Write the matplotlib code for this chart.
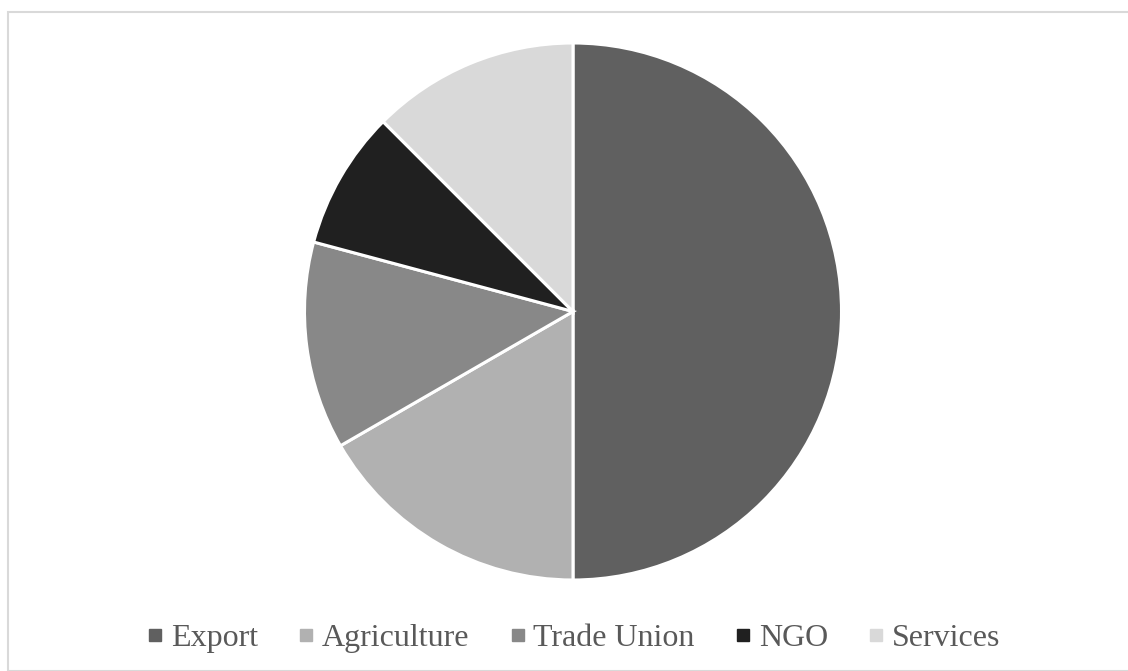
import matplotlib.pyplot as plt
from matplotlib.lines import Line2D
from matplotlib.patches import Rectangle

plt.rcParams["font.family"] = ["Liberation Serif", "DejaVu Serif"]

labels = ["Export", "Agriculture", "Trade Union", "NGO", "Services"]
counts = [12, 4, 3, 2, 3]
colors = ["#606060", "#b1b1b1", "#888888", "#202020", "#d9d9d9"]

W, H = 1128, 671
fig = plt.figure(figsize=(W / 100, H / 100), dpi=100)

# light grey chart frame
fig.patches.append(Rectangle((8 / W, 0), 1.2, (H - 12) / H, transform=fig.transFigure,
                             fill=False, edgecolor="#d9d9d9", linewidth=1.5))

cx, cy, r = 573, 311.5, 268.5
ax = fig.add_axes([(cx - r) / W, (H - cy - r) / H, 2 * r / W, 2 * r / H])
ax.pie(counts, colors=colors, startangle=90, counterclock=False,
       wedgeprops=dict(edgecolor="white", linewidth=2.2))
ax.set_xlim(-1, 1)
ax.set_ylim(-1, 1)
ax.set_aspect("equal")

handles = [Line2D([], [], marker="s", linestyle="none", markersize=8,
                  markerfacecolor=c, markeredgecolor=c) for c in colors]
fig.legend(handles, labels, loc="center", bbox_to_anchor=(574.5 / W, (H - 638) / H),
           ncol=5, frameon=False, fontsize=23, handlelength=0.4,
           handletextpad=0.3, columnspacing=1.3, labelcolor="#595959",
           borderpad=0)

fig.savefig("out.png", dpi=100)
